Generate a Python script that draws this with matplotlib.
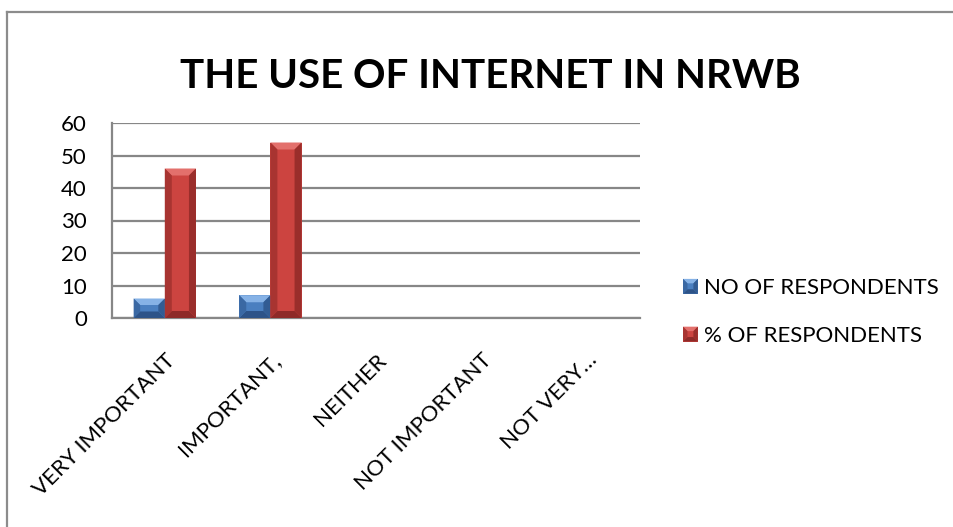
import matplotlib
matplotlib.use("Agg")
import matplotlib.pyplot as plt
from matplotlib.patches import Polygon, Rectangle
from matplotlib.lines import Line2D
from matplotlib.legend_handler import HandlerBase

# ---- data ----
categories = ["VERY IMPORTANT", "IMPORTANT,", "NEITHER", "NOT IMPORTANT", "NOT VERY\u2026"]
no_of_respondents = [6, 7, 0, 0, 0]
pct_of_respondents = [46, 54, 0, 0, 0]
series_names = ["NO OF RESPONDENTS", "% OF RESPONDENTS"]
y_ticks = [0, 10, 20, 30, 40, 50, 60]
title_text = "THE USE OF INTERNET IN NRWB"

plt.rcParams['font.family'] = ['Lato', 'DejaVu Sans']

PAL = {
    'blue': dict(face='#4A7FC0', light='#86B2E6', left='#3A68A3', right='#325C93', bottom='#2D5388'),
    'red': dict(face='#CC4440', light='#E3706C', left='#A83431', right='#9A2E2B', bottom='#8E2A28'),
}

W, H, DPI = 954, 527, 100
fig = plt.figure(figsize=(W / DPI, H / DPI), dpi=DPI)
fig.patch.set_facecolor('white')

# outer chart border
bc = '#8C8C8C'
fig.add_artist(Line2D([7.5 / W, 7.5 / W], [0, 1 - 11.5 / H], transform=fig.transFigure, color=bc, lw=1.6))
fig.add_artist(Line2D([7.5 / W, 1], [1 - 11.5 / H, 1 - 11.5 / H], transform=fig.transFigure, color=bc, lw=1.6))

ax_l, ax_r, ax_t, ax_b = 112, 640, 123, 318
ax = fig.add_axes([ax_l / W, 1 - ax_b / H, (ax_r - ax_l) / W, (ax_b - ax_t) / H])

x = list(range(len(categories)))
bw = 0.295
bars1 = ax.bar([i - bw / 2 for i in x], no_of_respondents, width=bw, color=PAL['blue']['face'], lw=0, zorder=3)
bars2 = ax.bar([i + bw / 2 for i in x], pct_of_respondents, width=bw, color=PAL['red']['face'], lw=0, zorder=3)

ax.set_xlim(-0.5, len(categories) - 0.5)
ax.set_ylim(0, 60)
ax.set_yticks(y_ticks)
ax.set_xticks(x)
ax.set_xticklabels(categories, rotation=45, ha='right', va='top', rotation_mode='anchor', fontsize=16)
ax.tick_params(axis='x', length=0, pad=23)
ax.tick_params(axis='y', length=0, pad=18, labelsize=16)
ax.grid(axis='y', color='#878787', lw=1.6, zorder=1)
ax.set_axisbelow(True)
for s in ['top', 'right']:
    ax.spines[s].set_visible(False)
for s in ['left', 'bottom']:
    ax.spines[s].set_color('#878787')
    ax.spines[s].set_linewidth(1.6)


def bevel_polys(x0, y0, x1, y1, b):
    return {
        'light': [(x0, y1), (x1, y1), (x1 - b, y1 - b), (x0 + b, y1 - b)],
        'bottom': [(x0, y0), (x1, y0), (x1 - b, y0 + b), (x0 + b, y0 + b)],
        'left': [(x0, y0), (x0, y1), (x0 + b, y1 - b), (x0 + b, y0 + b)],
        'right': [(x1, y0), (x1, y1), (x1 - b, y1 - b), (x1 - b, y0 + b)],
    }


inv = ax.transData.inverted()
for bars, key in [(bars1, 'blue'), (bars2, 'red')]:
    for p in bars.patches:
        if p.get_height() <= 0:
            continue
        (dx0, dy0), (dx1, dy1) = ax.transData.transform([(p.get_x(), 0), (p.get_x() + p.get_width(), p.get_height())])
        b = min(7, (dx1 - dx0) / 3, (dy1 - dy0) / 3)
        for part, poly in bevel_polys(dx0, dy0, dx1, dy1, b).items():
            pts = inv.transform(poly)
            ax.add_patch(Polygon(pts, closed=True, color=PAL[key][part], lw=0, zorder=4))


class BevelHandler(HandlerBase):
    def __init__(self, key):
        super().__init__()
        self.key = key

    def create_artists(self, legend, orig_handle, xdescent, ydescent, width, height, fontsize, trans):
        s = height
        x0, y0 = -xdescent, -ydescent
        arts = [Rectangle((x0, y0), s, s, color=PAL[self.key]['face'], lw=0, transform=trans)]
        b = s * 0.3
        for part, poly in bevel_polys(x0, y0, x0 + s, y0 + s, b).items():
            arts.append(Polygon(poly, closed=True, color=PAL[self.key][part], lw=0, transform=trans))
        return arts


h1 = Rectangle((0, 0), 1, 1)
h2 = Rectangle((0, 0), 1, 1)
fig.legend([h1, h2], series_names, loc='center left', bbox_to_anchor=(683 / W, 1 - 312 / H),
           frameon=False, fontsize=16, borderpad=0, borderaxespad=0, handlelength=0.65, handleheight=0.65,
           handletextpad=0.3, labelspacing=1.25,
           handler_map={h1: BevelHandler('blue'), h2: BevelHandler('red')})

fig.text(490 / W, 1 - 76 / H, title_text, ha='center', va='center', fontsize=29, fontweight='bold')

fig.savefig('out.png', dpi=DPI)
